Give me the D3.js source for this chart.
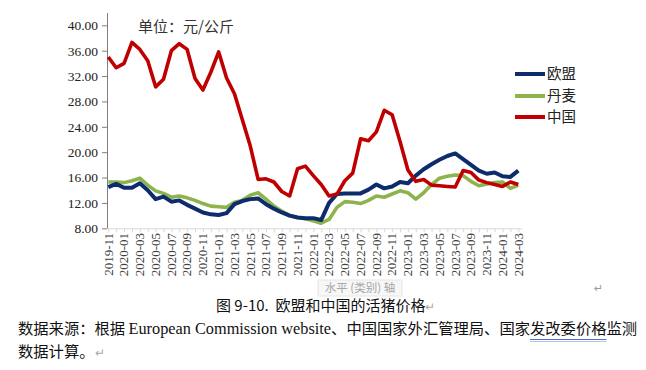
<!DOCTYPE html>
<html><head><meta charset="utf-8">
<script src="https://cdn.jsdelivr.net/npm/d3@7"></script>
<style>
body{margin:0;background:#fff;}
svg{display:block;}
</style></head>
<body>
<svg id="chart" width="646" height="370"></svg>
<script>
// ---- data ----
const months = ["2019-11","2019-12","2020-01","2020-02","2020-03","2020-04","2020-05","2020-06","2020-07","2020-08","2020-09","2020-10","2020-11","2020-12",
"2021-01","2021-02","2021-03","2021-04","2021-05","2021-06","2021-07","2021-08","2021-09","2021-10","2021-11","2021-12",
"2022-01","2022-02","2022-03","2022-04","2022-05","2022-06","2022-07","2022-08","2022-09","2022-10","2022-11","2022-12",
"2023-01","2023-02","2023-03","2023-04","2023-05","2023-06","2023-07","2023-08","2023-09","2023-10","2023-11","2023-12",
"2024-01","2024-02","2024-03"];
const eu = [14.5,15.0,14.4,14.4,15.1,14.0,12.6,13.0,12.2,12.4,11.7,11.1,10.5,10.2,
10.1,10.4,11.8,12.3,12.6,12.7,11.8,11.1,10.5,10.0,9.7,9.6,
9.6,9.3,12.0,13.4,13.5,13.5,13.5,14.1,14.9,14.3,14.6,15.3,
15.1,16.3,17.3,18.1,18.8,19.4,19.8,18.9,18.0,17.1,16.6,16.8,
16.2,16.1,17.1];
const denmark = [15.3,15.3,15.2,15.5,15.9,14.8,13.9,13.5,12.9,13.1,12.8,12.4,11.9,11.5,
11.4,11.3,12.1,12.4,13.2,13.6,12.6,11.5,10.7,10.0,9.7,9.5,
9.2,8.8,9.4,11.3,12.2,12.1,11.9,12.4,13.1,12.9,13.4,13.9,
13.6,12.6,13.6,14.9,15.9,16.2,16.4,16.3,15.4,14.7,15.0,15.2,
15.3,14.3,14.8];
const china = [35.0,33.3,34.0,37.3,36.2,34.4,30.3,31.5,36.0,37.1,36.2,31.6,29.8,32.6,
35.8,31.7,29.2,25.1,21.0,15.7,15.8,15.3,13.8,13.1,17.4,17.8,
16.3,14.9,13.1,13.4,15.5,16.7,22.1,21.8,23.2,26.6,25.9,21.7,
17.2,15.4,15.7,14.8,14.7,14.6,14.5,17.1,16.8,15.6,15.2,14.9,
14.6,15.3,14.9];
const seriesNames = ["欧盟","丹麦","中国"];
const seriesColors = ["#0d2c6c","#8db34c","#c00000"];
const yTicks = [8,12,16,20,24,28,32,36,40];
const xTickLabels = months.filter((m,i)=>i%2===0);
const unitLabel = "单位：元/公斤";
const captionText = "图 9-10.\u00a0\u00a0欧盟和中国的活猪价格";
const sourcePart1 = "数据来源：根据 ";
const sourcePart2 = "European Commission website";
const sourcePart3 = "、中国国家外汇管理局、国家";
const sourcePart4 = "发改委价格";
const sourcePart5 = "监测";
const sourceLine2 = "数据计算。";
const tooltipText = "水平 (类别) 轴";

// ---- chart ----
const svg = d3.select("#chart");
const x = d3.scalePoint().domain(months).range([108.3, 518.3]);
const y = d3.scaleLinear().domain([8,40]).range([228.3, 25.3]);

// x axis
const xAxis = d3.axisBottom(x).tickValues(months).tickSize(4).tickFormat("");
const gx = svg.append("g").attr("transform","translate(0,228.3)").call(xAxis);
gx.select(".domain").attr("d","M107,0.5H522").attr("stroke","#d9d9d9");
gx.selectAll(".tick line").attr("stroke","#d9d9d9");
svg.append("g").selectAll("text").data(xTickLabels).join("text")
  .attr("transform", d => `translate(${x(d)+4.3},233) rotate(-90)`)
  .attr("text-anchor","end")
  .attr("font-family","'Liberation Serif', serif")
  .attr("font-size",13)
  .attr("fill","#404040")
  .text(d=>d);

// y axis
const yAxis = d3.axisLeft(y).tickValues(yTicks).tickSize(5).tickPadding(4).tickFormat(d3.format(".2f"));
const gy = svg.append("g").attr("transform","translate(107,0)").call(yAxis);
gy.select(".domain").attr("d","M0.5,13V228.3").attr("stroke","#7f7f7f");
gy.selectAll(".tick line").attr("stroke","#7f7f7f");
gy.selectAll(".tick text").attr("font-family","'Liberation Serif', serif").attr("font-size",13.5).attr("fill","#222");

// lines
const allSeries = [eu, denmark, china];
const line = d3.line().x((d,i)=>x(months[i])).y(d=>y(d));
[1,0,2].forEach(k=>{
  svg.append("path").datum(allSeries[k])
    .attr("d", line).attr("fill","none")
    .attr("stroke", seriesColors[k])
    .attr("stroke-width", k===0?4:3.6)
    .attr("stroke-linejoin","round");
});

// unit label
svg.append("text").attr("x",138).attr("y",32)
  .attr("font-family","'Noto Sans CJK SC', sans-serif").attr("font-size",15)
  .attr("fill","#333").text(unitLabel);

// legend
const legY = [74, 96, 117];
seriesNames.forEach((n,k)=>{
  svg.append("line").attr("x1",515).attr("x2",545).attr("y1",legY[k]).attr("y2",legY[k])
    .attr("stroke",seriesColors[k]).attr("stroke-width",4);
  svg.append("text").attr("x",547).attr("y",legY[k]+5)
    .attr("font-family","'Noto Sans CJK SC', sans-serif").attr("font-size",14.5)
    .attr("fill","#222").text(n);
});

// tooltip ghost
svg.append("rect").attr("x",318).attr("y",280).attr("width",84).attr("height",16)
  .attr("fill","#f7f7f7").attr("stroke","#e6e6e6");
svg.append("text").attr("x",360).attr("y",292).attr("text-anchor","middle")
  .attr("font-family","'Noto Sans CJK SC', sans-serif").attr("font-size",11.5)
  .attr("fill","#a6a6a6").text(tooltipText);

// return mark top-right
svg.append("text").attr("x",594).attr("y",292)
  .attr("font-family","'DejaVu Sans', sans-serif").attr("font-size",11)
  .attr("fill","#999").text("↵");

// caption
const cap = svg.append("text").attr("x",216).attr("y",311)
  .attr("font-family","'Noto Sans CJK SC', sans-serif").attr("font-size",15).attr("fill","#111");
cap.append("tspan").text(captionText);
cap.append("tspan").attr("fill","#aaa").attr("font-size",12).text("↵");

// source
const src = svg.append("text").attr("x",18).attr("y",334)
  .attr("font-family","'Noto Sans CJK SC', sans-serif").attr("font-size",15.3).attr("fill","#111");
src.append("tspan").text(sourcePart1);
src.append("tspan").attr("font-family","'Liberation Serif', serif").attr("font-size",16.3).text(sourcePart2);
src.append("tspan").text(sourcePart3);
const ul = src.append("tspan").text(sourcePart4);
src.append("tspan").text(sourcePart5);
const src2 = svg.append("text").attr("x",18).attr("y",357)
  .attr("font-family","'Noto Sans CJK SC', sans-serif").attr("font-size",15.3).attr("fill","#111");
src2.append("tspan").text(sourceLine2);
src2.append("tspan").attr("fill","#aaa").attr("font-size",12).text("↵");

// underline beneath 发改委价格
const n = src.node();
const allText = sourcePart1+sourcePart2+sourcePart3;
const startIdx = allText.length;
const s0 = n.getStartPositionOfChar(startIdx);
const e0 = n.getEndPositionOfChar(startIdx + sourcePart4.length - 1);
svg.append("line").attr("x1",s0.x).attr("x2",e0.x).attr("y1",339.5).attr("y2",339.5)
  .attr("stroke","#4a74c9").attr("stroke-width",1);
svg.append("line").attr("x1",s0.x).attr("x2",e0.x).attr("y1",341.5).attr("y2",341.5)
  .attr("stroke","#9db4e2").attr("stroke-width",0.8);
</script>
</body></html>
